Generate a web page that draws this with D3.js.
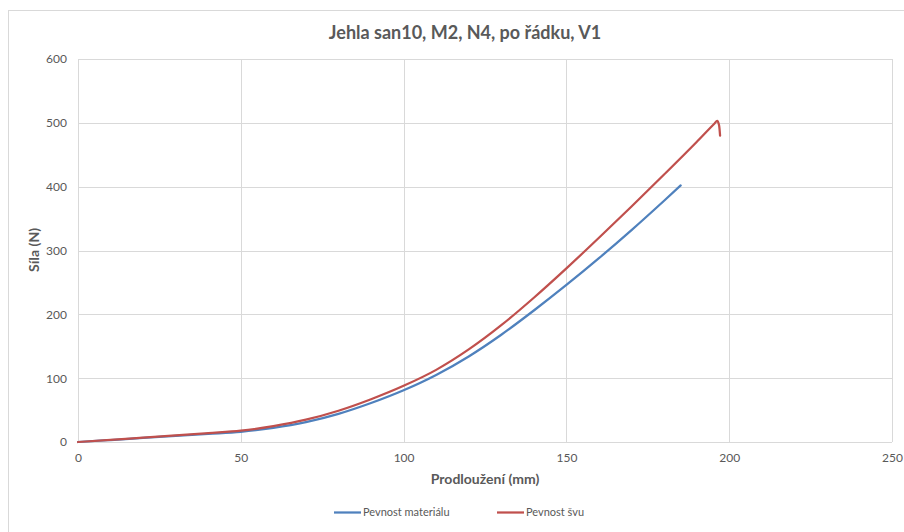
<!DOCTYPE html>
<html>
<head>
<meta charset="utf-8">
<script src="https://cdn.jsdelivr.net/npm/d3@7"></script>
<style>
  html, body { margin: 0; padding: 0; background: #fff; }
  svg { display: block; }
  text { font-family: Lato, "Open Sans", sans-serif; }
</style>
</head>
<body>
<svg id="chart" width="904" height="532"></svg>
<script>
// Tensile test: elongation (mm) vs. force (N)
const titleText = "Jehla san10, M2, N4, po řádku, V1";
const xTitle = "Prodloužení (mm)";
const yTitle = "Síla (N)";
const xTicks = [0, 50, 100, 150, 200, 250];
const yTicks = [0, 100, 200, 300, 400, 500, 600];

// Pevnost materiálu
const materialX = [0, 10, 20, 30, 40, 50, 60, 70, 80, 90, 100, 110, 120, 130, 140, 150, 160, 170, 180, 185.1];
const materialY = [0, 3.1, 6.3, 9.5, 12.7, 16, 22, 31, 44, 61, 81, 105, 134, 168, 206, 246, 288, 332, 378, 402];

// Pevnost švu
const seamX = [0, 10, 20, 30, 40, 50, 60, 70, 80, 90, 100, 110, 120, 130, 140, 150, 160, 170, 180, 190, 195.5, 196.3, 196.9, 197.2];
const seamY = [0, 3.4, 6.9, 10.4, 14, 17.7, 25, 35, 49, 67, 88, 113, 145, 183, 226, 272, 320, 369, 419, 470, 499, 503, 496, 480];

const seriesNames = ["Pevnost materiálu", "Pevnost švu"];
const seriesColors = ["#4F81BD", "#C0504D"];

const svg = d3.select("#chart");
const plot = { left: 78, right: 892, top: 59, bottom: 442 };

// outer chart frame
svg.append("rect")
  .attr("x", 8.5).attr("y", 10.5)
  .attr("width", 1000).attr("height", 1000)
  .attr("fill", "none").attr("stroke", "#d9d9d9").attr("stroke-width", 1);

const x = d3.scaleLinear().domain([0, 250]).range([plot.left, plot.right]);
const y = d3.scaleLinear().domain([0, 600]).range([plot.bottom, plot.top]);

// gridlines
svg.append("g")
  .selectAll("line")
  .data(yTicks)
  .join("line")
  .attr("x1", plot.left).attr("x2", plot.right)
  .attr("y1", d => Math.round(y(d)) + 0.5).attr("y2", d => Math.round(y(d)) + 0.5)
  .attr("stroke", "#d9d9d9").attr("stroke-width", 1);

svg.append("g")
  .selectAll("line")
  .data(xTicks)
  .join("line")
  .attr("y1", plot.top).attr("y2", plot.bottom)
  .attr("x1", d => Math.round(x(d)) + 0.5).attr("x2", d => Math.round(x(d)) + 0.5)
  .attr("stroke", "#d9d9d9").attr("stroke-width", 1);

// axes (labels only, lines drawn by grid)
const xAxis = d3.axisBottom(x).tickValues(xTicks).tickSize(0).tickPadding(11);
const gx = svg.append("g").attr("transform", `translate(0,${plot.bottom})`).call(xAxis);
gx.select(".domain").remove();
gx.selectAll("text").attr("fill", "#595959").style("font-size", "12px")
  .style("font-family", "Lato, 'Open Sans', sans-serif");

const yAxis = d3.axisLeft(y).tickValues(yTicks).tickSize(0).tickPadding(11);
const gy = svg.append("g").attr("transform", `translate(${plot.left},0)`).call(yAxis);
gy.select(".domain").remove();
gy.selectAll("text").attr("fill", "#595959").style("font-size", "12px")
  .style("font-family", "Lato, 'Open Sans', sans-serif");

// series
const line = d3.line().x(d => x(d[0])).y(d => y(d[1])).curve(d3.curveMonotoneX);
const series = [
  d3.zip(materialX, materialY),
  d3.zip(seamX, seamY)
];
svg.append("g")
  .selectAll("path")
  .data(series)
  .join("path")
  .attr("d", line)
  .attr("fill", "none")
  .attr("stroke", (d, i) => seriesColors[i])
  .attr("stroke-width", 2.25)
  .attr("stroke-linejoin", "round")
  .attr("stroke-linecap", "round");

// title
svg.append("text")
  .attr("x", 465).attr("y", 39)
  .attr("text-anchor", "middle")
  .attr("fill", "#595959")
  .style("font-size", "18px").style("font-weight", "bold")
  .text(titleText);

// axis titles
svg.append("text")
  .attr("x", 485).attr("y", 484)
  .attr("text-anchor", "middle")
  .attr("fill", "#595959")
  .style("font-size", "14px").style("font-weight", "bold")
  .text(xTitle);

svg.append("text")
  .attr("transform", "translate(39,250) rotate(-90)")
  .attr("text-anchor", "middle")
  .attr("fill", "#595959")
  .style("font-size", "14px").style("font-weight", "bold")
  .text(yTitle);

// legend
const legendItems = [{ x: 334 }, { x: 497 }];
const lg = svg.append("g");
legendItems.forEach((it, i) => {
  lg.append("line")
    .attr("x1", it.x).attr("x2", it.x + 27)
    .attr("y1", 512.5).attr("y2", 512.5)
    .attr("stroke", seriesColors[i]).attr("stroke-width", 2.25);
  lg.append("text")
    .attr("x", it.x + 29).attr("y", 516)
    .attr("fill", "#595959")
    .style("font-size", "11px")
    .text(seriesNames[i]);
});
</script>
</body>
</html>
